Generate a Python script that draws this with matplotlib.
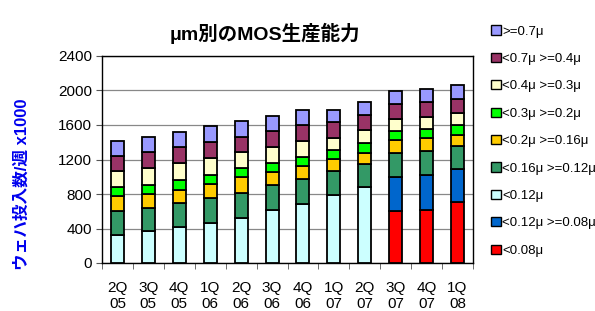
import matplotlib
matplotlib.use("Agg")
import matplotlib.pyplot as plt
from matplotlib.patches import Patch
import numpy as np

plt.rcParams['font.family'] = ['Liberation Sans', 'Noto Sans CJK JP', 'DejaVu Sans']

categories = ["2Q\n05", "3Q\n05", "4Q\n05", "1Q\n06", "2Q\n06", "3Q\n06",
              "4Q\n06", "1Q\n07", "2Q\n07", "3Q\n07", "4Q\n07", "1Q\n08"]

# stacking order bottom -> top
series_names = ["<0.08μ", "<0.12μ >=0.08μ", "<0.12μ", "<0.16μ >=0.12μ",
                "<0.2μ >=0.16μ", "<0.3μ >=0.2μ", "<0.4μ >=0.3μ",
                "<0.7μ >=0.4μ", ">=0.7μ"]
series_colors = ["#FF0000", "#0066CC", "#CCFFFF", "#339966", "#FFCC00",
                 "#00FF00", "#FFFFCC", "#993366", "#9999FF"]

lt_008 =      [0, 0, 0, 0, 0, 0, 0, 0, 0, 604, 619, 712]
lt_012_ge008 = [0, 0, 0, 0, 0, 0, 0, 0, 0, 396, 396, 380]
lt_012 =      [323, 369, 415, 469, 527, 615, 685, 788, 885, 0, 0, 0]
lt_016 =      [277, 273, 277, 289, 285, 285, 292, 274, 258, 273, 285, 266]
lt_02 =       [173, 162, 158, 161, 180, 150, 142, 146, 135, 150, 146, 130]
lt_03 =       [108, 100, 115, 100, 104, 115, 112, 100, 119, 104, 104, 108]
lt_04 =       [181, 196, 193, 196, 196, 181, 188, 146, 150, 146, 142, 146]
lt_07 =       [180, 188, 184, 189, 166, 185, 185, 177, 173, 173, 173, 162]
ge_07 =       [170, 173, 181, 188, 184, 173, 173, 146, 150, 150, 154, 154]

series = [lt_008, lt_012_ge008, lt_012, lt_016, lt_02, lt_03, lt_04, lt_07, ge_07]

title = "μm別のMOS生産能力"
ylabel = "ウェハ投入数/週 x1000"
yticks = [0, 400, 800, 1200, 1600, 2000, 2400]

fig = plt.figure(figsize=(5.95, 3.11), dpi=100)
ax = fig.add_axes([102/595, 1 - 263/311, (473-102)/595, (263-56)/311])

x = np.arange(len(categories))
bottom = np.zeros(len(categories))
for vals, col in zip(series, series_colors):
    v = np.array(vals, dtype=float)
    ax.bar(x, v, width=0.42, bottom=bottom, color=col, edgecolor="black",
           linewidth=1.3, zorder=3)
    bottom += v

ax.set_xlim(-0.5, len(categories) - 0.5)
ax.set_ylim(0, 2400)
ax.set_yticks(yticks)
ax.set_yticklabels([str(t) for t in yticks], fontsize=11)
ax.set_xticks(x)
ax.set_xticklabels(categories, fontsize=11, linespacing=1.2)
ax.tick_params(axis='x', which='major', length=0, pad=13)
ax.set_xticks(np.arange(-0.5, len(categories), 1.0), minor=True)
ax.tick_params(axis='x', which='minor', length=4, direction='out', color='#555555')
ax.tick_params(axis='y', length=4, direction='out', color='#555555', pad=3)
ax.yaxis.grid(True, color="#888888", linewidth=0.9, zorder=0)
ax.set_axisbelow(True)
for s in ax.spines.values():
    s.set_color("black")
    s.set_linewidth(1.0)

fig.text(265/595, 1 - 33/311, title, ha="center", va="center",
         fontsize=14, fontweight="bold")
fig.text(22/595, 1 - 184/311, ylabel, ha="center", va="center", rotation=90,
         fontsize=12, fontweight="bold", color="#0000EE")

handles = [Patch(facecolor=c, edgecolor="black", linewidth=1.0, label=n)
           for c, n in zip(series_colors, series_names)][::-1]
leg = fig.legend(handles=handles, loc="upper left",
                 bbox_to_anchor=(486/595, 1 - 20/311), frameon=False,
                 fontsize=9.5, handlelength=0.7, handleheight=0.7,
                 handletextpad=0.15, labelspacing=1.15, borderaxespad=0)

fig.savefig("out.png", dpi=100, facecolor="white")
